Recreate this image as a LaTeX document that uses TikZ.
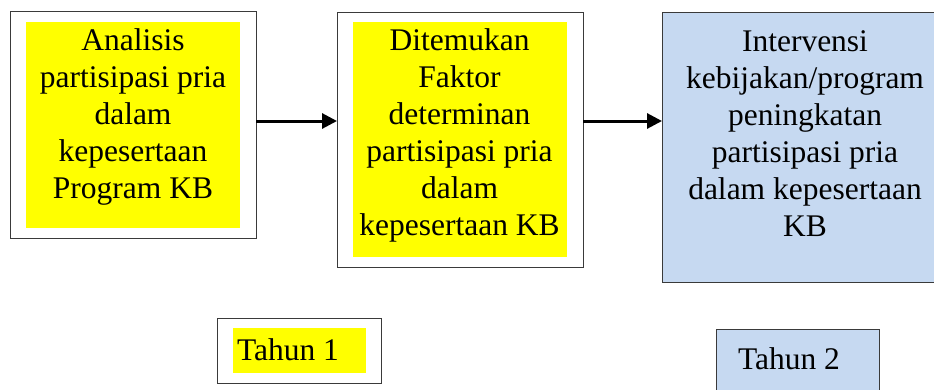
\documentclass[tikz,border=0pt]{standalone}
\usepackage{fontspec}
\IfFontExistsTF{LiberationSerif-Regular.ttf}
  {\newfontfamily\tnrfont{LiberationSerif-Regular.ttf}}
  {\IfFontExistsTF{Liberation Serif}{\newfontfamily\tnrfont{Liberation Serif}}{\newfontfamily\tnrfont{DejaVu Serif}}}
\usetikzlibrary{arrows.meta}
\definecolor{hl}{HTML}{FFFF00}
\definecolor{lb}{HTML}{C6D9F1}
\definecolor{edge}{HTML}{3A3A3A}
\begin{document}
\begin{tikzpicture}[x=1pt,y=-1pt,
  boxnode/.style={draw=edge, line width=1pt, fill=#1, inner sep=0pt, outer sep=0pt, anchor=north west},
  fillnode/.style={fill=#1, draw=none, inner sep=0pt, outer sep=0pt, anchor=north west},
  txt/.style={inner sep=0pt, outer sep=0pt, align=center, font=\tnrfont\fontsize{31.5}{37}\selectfont},
  flow/.style={line width=3pt, -{Triangle[length=15pt,width=15pt]}}]
\useasboundingbox (0,0) rectangle (934,389);
\clip (0,0) rectangle (934,389);
% box 1
\node[boxnode=white, minimum width=246pt, minimum height=227pt] (b1) at (10,11) {};
\node[fillnode=hl, minimum width=214pt, minimum height=206pt] (y1) at (26,22) {};
\node[txt, anchor=north] (t1) at (133,28.5) {Analisis\\partisipasi pria\\dalam\\kepesertaan\\Program KB};
% box 2
\node[boxnode=white, minimum width=246pt, minimum height=255pt] (b2) at (337,12) {};
\node[fillnode=hl, minimum width=214pt, minimum height=235pt] (y2) at (353,22) {};
\node[txt, anchor=north] (t2) at (459.5,28.5) {Ditemukan\\Faktor\\determinan\\partisipasi pria\\dalam\\kepesertaan KB};
% box 3
\node[boxnode=lb, minimum width=286pt, minimum height=270pt] (b3) at (662,12) {};
\node[txt, anchor=north] (t3) at (805,30.5) {Intervensi\\kebijakan/program\\peningkatan\\partisipasi pria\\dalam kepesertaan\\KB};
% arrows
\coordinate (ay) at (0,121);
\draw[flow] (b1.east |- ay) -- (b2.west |- ay);
\draw[flow] (b2.east |- ay) -- (b3.west |- ay);
% year boxes
\node[boxnode=white, minimum width=164pt, minimum height=65pt] (y1b) at (217,318) {};
\node[fillnode=hl, minimum width=133pt, minimum height=45pt] (y1f) at (233,328) {};
\node[txt, anchor=base west] (yt1) at (237,360) {Tahun 1};
\node[boxnode=lb, minimum width=163pt, minimum height=75pt] (y2b) at (716,329) {};
\node[txt, anchor=base west] (yt2) at (738,369) {Tahun 2};
\end{tikzpicture}
\end{document}
